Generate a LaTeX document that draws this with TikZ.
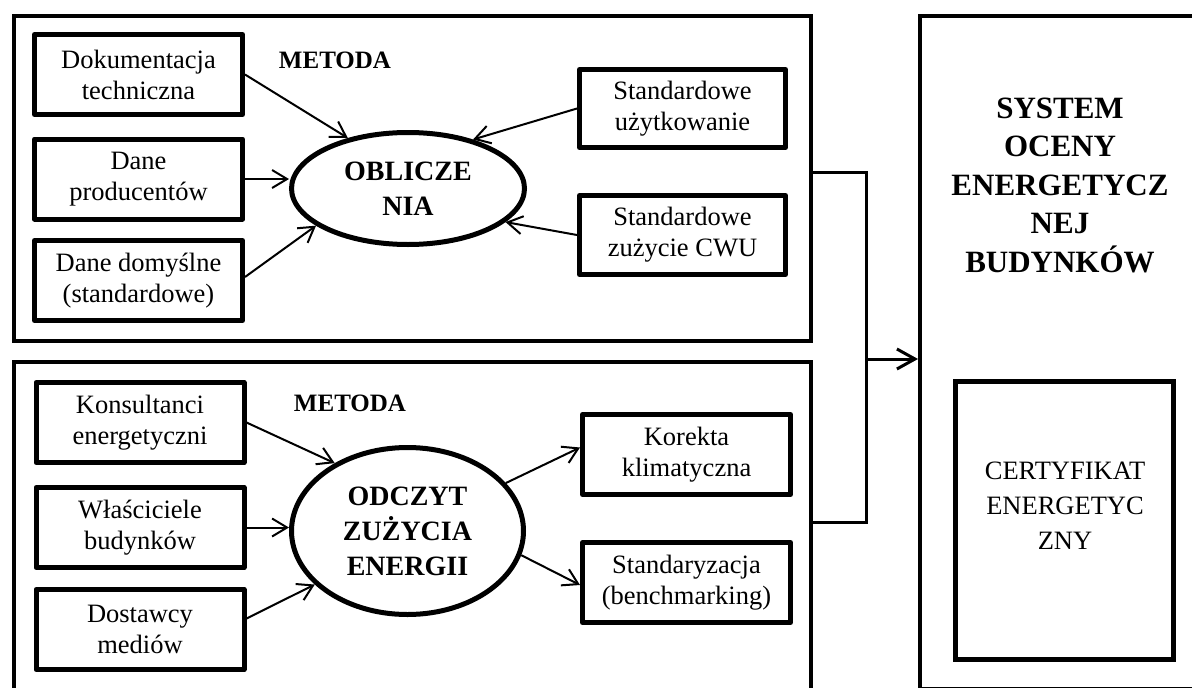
\documentclass[tikz,border=0pt]{standalone}
\usepackage{fontspec}
\setmainfont{Liberation Serif}
\usetikzlibrary{shapes.geometric,arrows.meta,calc}

\begin{document}
\begin{tikzpicture}[x=1pt,y=-1pt,
  frame/.style={draw,line width=4pt,inner sep=0pt},
  srcbox/.style={draw,line width=5pt,line join=round,minimum width=208pt,
    minimum height=80pt,inner sep=0pt,align=center,
    font=\fontsize{26.5}{31}\selectfont},
  hub/.style={draw,ellipse,line width=5pt,inner sep=0pt,align=center,
    font=\fontsize{28}{35}\selectfont\bfseries},
  flow/.style={line width=2pt,-{Straight Barb[length=15pt,width=18pt]}},
  link/.style={line width=3pt},
  heading/.style={font=\fontsize{25}{30}\selectfont\bfseries},
]
\useasboundingbox (0,0) rectangle (1192,688);

% outer frames
\node[frame,minimum width=797pt,minimum height=325pt] (upper) at (412.5,178.5) {};
\node[frame,minimum width=797pt,minimum height=340pt] (lower) at (412.5,532) {};
\node[frame,minimum width=290pt,minimum height=673pt] (sys) at (1065,352.5) {};

% system title and certificate
\node[font=\fontsize{31}{38.5}\selectfont\bfseries,align=center] (systitle)
  at (1060,185) {SYSTEM\\OCENY\\ENERGETYCZ\\NEJ\\BUDYNKÓW};
\node[draw,line width=5pt,minimum width=218pt,minimum height=278pt,inner sep=0pt]
  (cert) at (1064.5,520.5) {};
\node[font=\fontsize{26.5}{35}\selectfont,align=center] (certtext)
  at (1065,506) {CERTYFIKAT\\ENERGETYC\\ZNY};

% upper method: calculation
\node[heading] (m1) at (335,60) {METODA};
\node[hub,minimum width=233pt,minimum height=112pt] (obl) at (408,188.5) {OBLICZE\\NIA};
\node[srcbox] (dok) at (138.5,74.5) {Dokumentacja\\techniczna};
\node[srcbox] (prod) at (138.5,179) {Dane\\producentów};
\node[srcbox] (dom) at (138.5,280.5) {Dane domyślne\\(standardowe)};
\node[srcbox,minimum width=206pt,minimum height=78pt] (uzyt) at (682.5,108.5) {Standardowe\\użytkowanie};
\node[srcbox,minimum width=206pt,minimum height=79pt] (cwu) at (682.5,235) {Standardowe\\zużycie CWU};

% lower method: metered consumption
\node[heading] (m2) at (350,403) {METODA};
\node[hub,minimum width=232pt,minimum height=167pt] (odc) at (407.5,531) {ODCZYT\\ZUŻYCIA\\ENERGII};
\node[srcbox] (kons) at (140,422.5) {Konsultanci\\energetyczni};
\node[srcbox] (wlasc) at (140,527.5) {Właściciele\\budynków};
\node[srcbox] (dost) at (140,629.5) {Dostawcy\\mediów};
\node[srcbox] (kor) at (686.5,454.5) {Korekta\\klimatyczna};
\node[srcbox] (stand) at (686.5,582.5) {Standaryzacja\\(benchmarking)};

% inputs to the calculation
\draw[flow] (dok.east) -- (obl.140);
\draw[flow] (prod.east) -- (prod.east -| obl.west);
\draw[flow] ([yshift=3.5pt]dom.east) -- (obl.202);
\draw[flow] (uzyt.west) -- (obl.37);
\draw[flow] (cwu.west) -- (obl.-19);

% inputs and outputs of the reading
\draw[flow] (kons.east) -- (odc.137);
\draw[flow] (wlasc.east) -- (wlasc.east -| odc.west);
\draw[flow] ([yshift=11pt]dost.east) -- (odc.210);
\draw[flow] (odc.26) -- ([yshift=7pt]kor.west);
\draw[flow] (odc.348) -- ([yshift=-2.5pt]stand.west);

% both methods feed the rating system
\coordinate (jtop) at (upper.east |- 0,172);
\coordinate (jbot) at (lower.east |- 0,522);
\coordinate (jmid) at (866,359);
\draw[link] (jtop) -| (jmid) |- (jbot);
\draw[link,-{Straight Barb[length=18pt,width=20pt]}] (jmid) -- (jmid -| sys.west);
\end{tikzpicture}
\end{document}
